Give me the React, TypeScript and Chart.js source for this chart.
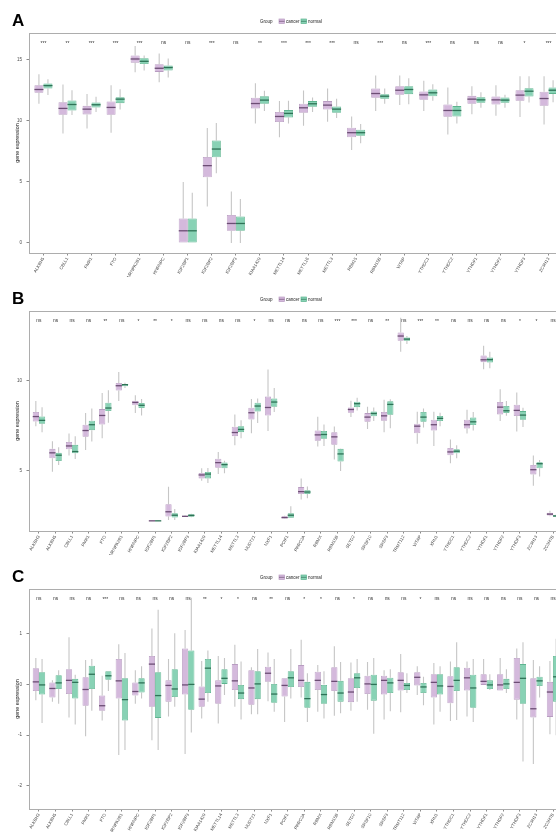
import React, { useEffect, useRef } from "react";
import { Chart, registerables } from "chart.js";

Chart.register(...registerables);

const FONT = "'Liberation Sans', Arial, Helvetica, sans-serif";

// ---------- Panel A ----------
const genesA = ["ALKBH5","CBLL1","FMR1","FTO","HNRNPA2B1","HNRNPC","IGF2BP1","IGF2BP2","IGF2BP3","KIAA1429","METTL14","METTL16","METTL3","RBM15","RBM15B","WTAP","YTHDC1","YTHDC2","YTHDF1","YTHDF2","YTHDF3","ZC3H13"];
const sigA = ["***","**","***","***","***","ns","ns","***","ns","**","***","***","***","ns","***","ns","***","ns","ns","ns","*","***"];
// [min, q1, median, q3, max]
const cancerA = [
  [11.41,12.31,12.58,12.93,13.83],[8.98,10.51,11.03,11.54,12.99],[9.39,10.54,10.97,11.24,12.22],[9.04,10.51,11.11,11.6,12.93],
  [13.99,14.78,15.08,15.36,16.14],[13.18,14.02,14.32,14.65,15.52],[0,0,1.0,2.01,5.0],[2.99,5.39,6.34,7.05,9.42],
  [0,1.0,1.6,2.29,4.22],[9.8,11.03,11.43,11.9,13.1],[8.66,9.91,10.37,10.73,11.63],[9.61,10.67,11.08,11.41,12.5],
  [9.94,10.94,11.3,11.63,12.66],[7.62,8.66,9.04,9.45,10.37],[10.81,11.9,12.25,12.66,13.72],[11.3,12.14,12.52,12.85,13.72],
  [10.81,11.73,12.14,12.41,13.29],[8.9,10.35,10.86,11.35,12.74],[10.56,11.41,11.79,12.06,12.85],[10.43,11.35,11.73,12.01,12.93],
  [10.32,11.65,12.12,12.52,13.67],[9.72,11.24,11.84,12.39,13.67]
];
const normalA = [
  [12.12,12.66,12.9,13.07,13.42],[10.48,10.86,11.35,11.68,12.52],[10.73,11.11,11.33,11.52,11.98],[10.94,11.46,11.79,11.95,12.6],
  [14.13,14.67,14.89,15.14,15.36],[13.56,14.13,14.38,14.54,15.11],[0,0,1.0,2.01,4.11],[5.72,7.02,7.7,8.41,9.83],
  [0,1.0,1.6,2.18,3.6],[10.81,11.41,11.71,12.03,12.47],[9.8,10.29,10.62,10.89,11.65],[10.73,11.16,11.41,11.63,11.92],
  [10.24,10.67,10.97,11.19,11.82],[8.17,8.79,9.04,9.28,9.75],[11.41,11.82,12.03,12.2,12.66],[11.38,12.2,12.58,12.85,13.5],
  [11.65,12.03,12.31,12.58,13.01],[9.8,10.37,10.86,11.22,11.57],[11.08,11.49,11.73,11.95,12.36],[11.08,11.49,11.71,11.92,12.14],
  [11.52,12.01,12.44,12.69,13.67],[11.54,12.22,12.52,12.74,13.34]
];
const yTicksA = [0, 5, 10, 15];

// ---------- Panel B ----------
const genesB = ["ALKBH3","ALKBH5","CBLL1","FMR1","FTO","HNRNPA2B1","HNRNPC","IGF2BP1","IGF2BP2","IGF2BP3","KIAA1429","METTL14","METTL3","NUDT21","NXF1","PCIF1","PRRC2A","RBMX","RBM15B","SETD2","SRSF10","SRSF3","TRMT112","WTAP","XRN1","YTHDC1","YTHDC2","YTHDF1","YTHDF2","YTHDF3","ZC3H13","ZC3H7B"];
const sigB = ["ns","ns","ns","ns","**","ns","*","**","*","ns","ns","ns","ns","*","ns","ns","ns","ns","***","***","ns","**","ns","***","**","ns","ns","ns","ns","*","*","ns"];
const cancerB = [
  [7.47,7.73,8.0,8.25,8.86],[4.96,5.7,6.0,6.22,6.64],[5.85,6.2,6.38,6.6,7.07],[6.16,6.88,7.23,7.55,8.2],
  [6.8,7.56,8.06,8.41,9.3],[8.86,9.43,9.7,9.85,10.46],[8.2,8.62,8.78,8.87,9.17],[2.24,2.24,2.25,2.26,2.27],
  [2.29,2.49,2.75,3.17,4.13],[2.47,2.48,2.5,2.52,2.54],[4.46,4.59,4.78,4.89,5.15],[4.83,5.18,5.46,5.68,6.05],
  [6.42,6.92,7.12,7.44,8.12],[7.08,7.84,8.21,8.49,8.97],[7.2,8.06,8.5,9.1,10.59],[2.36,2.38,2.43,2.51,2.53],
  [3.43,3.73,3.86,4.11,4.59],[6.35,6.66,6.99,7.23,7.99],[5.63,6.44,6.88,7.14,7.45],[7.97,8.21,8.39,8.5,8.87],
  [7.32,7.71,7.97,8.19,8.54],[7.14,7.77,8.04,8.25,8.93],[11.57,12.18,12.44,12.64,13.45],[6.5,7.08,7.47,7.6,8.27],
  [6.37,7.23,7.55,7.82,8.27],[5.42,5.87,6.05,6.27,6.73],[7.07,7.34,7.55,7.82,8.38],[10.61,11.0,11.13,11.37,11.9],
  [7.75,8.12,8.52,8.8,9.5],[7.18,8.03,8.34,8.65,9.32],[4.19,4.81,5.07,5.33,5.85],[2.5,2.54,2.62,2.69,2.8]
];
const normalB = [
  [7.14,7.6,7.79,8.0,8.52],[5.33,5.55,5.87,6.0,6.31],[5.66,5.98,6.07,6.44,6.92],[6.62,7.25,7.55,7.77,8.45],
  [7.66,8.3,8.47,8.76,9.45],[9.58,9.67,9.76,9.8,9.87],[8.06,8.47,8.62,8.75,8.97],[2.24,2.24,2.25,2.26,2.27],
  [2.29,2.43,2.56,2.67,2.9],[2.45,2.47,2.55,2.62,2.64],[4.33,4.59,4.83,4.94,5.17],[4.87,5.15,5.35,5.46,5.57],
  [6.8,7.14,7.29,7.47,7.79],[7.64,8.28,8.58,8.76,9.0],[8.25,8.54,8.8,9.0,9.58],[2.4,2.42,2.56,2.67,3.06],
  [3.49,3.73,3.84,3.93,4.15],[6.37,6.77,7.01,7.2,7.56],[5.0,5.52,5.94,6.22,6.24],[8.34,8.52,8.71,8.82,9.04],
  [7.75,8.02,8.17,8.28,8.5],[7.36,8.1,8.67,8.84,8.95],[12.0,12.18,12.27,12.36,12.44],[7.4,7.71,7.97,8.25,8.45],
  [7.47,7.75,7.9,8.03,8.21],[5.7,5.98,6.09,6.2,6.42],[7.23,7.53,7.71,7.95,8.25],[10.66,10.98,11.14,11.25,11.57],
  [8.04,8.19,8.32,8.58,8.86],[7.42,7.82,8.08,8.3,8.49],[4.7,5.15,5.4,5.48,5.6],[2.45,2.47,2.52,2.56,2.6]
];
const yTicksB = [5, 10];

// ---------- Panel C ----------
const genesC = genesB;
const sigC = ["ns","ns","ns","ns","***","ns","ns","ns","ns","ns","**","*","*","ns","**","ns","*","*","ns","*","ns","ns","ns","*","ns","ns","ns","ns","ns","ns","ns","ns"];
const cancerC = [
  [-0.31,-0.13,0.05,0.32,0.52],[-0.34,-0.26,-0.08,0.04,0.08],[-0.65,-0.19,0.08,0.3,0.93],[-1.02,-0.42,-0.1,0.14,0.48],
  [-0.71,-0.52,-0.42,-0.22,0.17],[-1.39,-0.28,0.07,0.5,0.79],[-0.38,-0.22,-0.14,0.04,0.28],[-1.1,-0.44,0.4,0.56,1.1],
  [-0.63,-0.34,-0.02,0.08,0.5],[-1.37,-0.2,-0.01,0.71,1.07],[-0.67,-0.44,-0.29,-0.04,0.46],[-0.77,-0.38,-0.03,0.08,0.56],
  [-0.44,-0.11,0.07,0.4,0.78],[-0.59,-0.4,-0.07,0.28,0.34],[-0.33,0.05,0.22,0.35,0.63],[-0.74,-0.24,-0.02,0.12,0.12],
  [-0.26,-0.05,0.08,0.38,0.88],[-0.54,-0.11,0.08,0.25,0.38],[-0.62,-0.13,0.06,0.34,0.75],[-0.52,-0.35,-0.15,0.12,0.43],
  [-0.5,-0.19,0.01,0.17,0.44],[-0.69,-0.2,0.08,0.17,0.28],[-0.55,-0.12,0.08,0.24,0.6],[-0.21,-0.02,0.14,0.24,0.36],
  [-0.79,-0.26,0.04,0.2,0.42],[-0.72,-0.37,-0.04,0.16,0.45],[-0.63,-0.12,0.13,0.33,0.45],[-0.01,-0.01,0.06,0.2,0.5],
  [-0.12,-0.12,-0.01,0.2,0.52],[-0.69,-0.3,0.04,0.52,0.71],[-1.57,-0.65,-0.48,0.12,0.48],[-0.98,-0.64,-0.15,0.05,0.46]
];
const normalC = [
  [-0.76,-0.2,-0.01,0.24,0.5],[-0.38,-0.09,0.03,0.18,0.28],[-0.79,-0.28,0.04,0.11,0.19],[-0.52,-0.09,0.2,0.37,0.5],
  [-0.13,0.09,0.17,0.26,0.26],[-1.29,-0.71,-0.3,0.12,0.62],[-0.28,-0.16,0.03,0.12,0.36],[-1.29,-0.66,-0.22,0.24,1.47],
  [-0.44,-0.25,-0.09,0.3,1.01],[-0.95,-0.5,0.0,0.67,1.71],[-0.34,-0.17,0.32,0.5,0.67],[-0.21,0.01,0.12,0.3,0.52],
  [-0.69,-0.29,-0.17,-0.01,0.45],[-0.59,-0.29,0.01,0.26,0.7],[-0.54,-0.36,-0.19,0.01,0.5],[-0.28,-0.05,0.13,0.26,0.7],
  [-0.74,-0.46,-0.28,0.05,0.22],[-0.67,-0.38,-0.2,0.0,0.26],[-0.57,-0.34,-0.17,0.07,0.44],[-0.34,-0.07,0.13,0.22,0.5],
  [-0.97,-0.32,0.0,0.19,0.52],[-0.53,-0.17,0.03,0.13,0.3],[-0.17,-0.11,-0.02,0.03,0.22],[-0.41,-0.17,-0.05,0.03,0.15],
  [-0.54,-0.2,-0.03,0.2,0.36],[-0.7,-0.13,0.08,0.34,0.83],[-0.74,-0.46,-0.07,0.19,0.5],[-0.11,-0.09,-0.01,0.08,0.2],
  [-0.17,-0.09,0.01,0.11,0.3],[-1.52,-0.38,0.12,0.4,0.83],[-0.26,-0.03,0.07,0.15,0.36],[-1.0,-0.34,0.15,0.56,0.9]
];
const yTicksC = [-2, -1, 0, 1];

const groups = ["cancer", "normal"];

// ---------- styles ----------
const CANCER_FILL = "#D4B9DC";
const CANCER_LINE = "#B89CC1";
const CANCER_MED = "#6C4D74";
const NORMAL_FILL = "#88D2B5";
const NORMAL_LINE = "#5DB48F";
const NORMAL_MED = "#2E7256";
const WHISKER = "#C6C6C6";

const CW = 575;
const CH = 300;
const AREA_LEFT = 29;
const AREA_TOP = 33;
const AREA_BOTTOM = 253;
const AREA_RIGHT = 563;
const XAXIS_H = 24;

type Panel = {
  letter: string;
  genes: string[];
  sig: string[];
  cancer: number[][];
  normal: number[][];
  yMin: number;
  yMax: number;
  yTicks: number[];
  top: number;
};

const panels: Panel[] = [
  { letter: "A", genes: genesA, sig: sigA, cancer: cancerA, normal: normalA, yMin: -0.82, yMax: 17.21, yTicks: yTicksA, top: 0 },
  { letter: "B", genes: genesB, sig: sigB, cancer: cancerB, normal: normalB, yMin: 1.69, yMax: 13.82, yTicks: yTicksB, top: 278 },
  { letter: "C", genes: genesC, sig: sigC, cancer: cancerC, normal: normalC, yMin: -2.455, yMax: 1.88, yTicks: yTicksC, top: 556 },
];

function makePlugin(p: Panel) {
  const statsList = [p.cancer, p.normal];
  const medColors = [CANCER_MED, NORMAL_MED];
  return {
    id: "boxExtras" + p.letter,
    beforeDatasetsDraw(chart: any) {
      const ctx = chart.ctx;
      const y = chart.scales.y;
      ctx.save();
      ctx.strokeStyle = WHISKER;
      ctx.lineWidth = 1.1;
      statsList.forEach((stats, di) => {
        chart.getDatasetMeta(di).data.forEach((el: any, i: number) => {
          const s = stats[i];
          const x = el.x;
          ctx.beginPath();
          ctx.moveTo(x, y.getPixelForValue(s[4]));
          ctx.lineTo(x, y.getPixelForValue(s[3]));
          ctx.moveTo(x, y.getPixelForValue(s[1]));
          ctx.lineTo(x, y.getPixelForValue(s[0]));
          ctx.stroke();
        });
      });
      ctx.restore();
    },
    afterDatasetsDraw(chart: any) {
      const ctx = chart.ctx;
      const y = chart.scales.y;
      ctx.save();
      ctx.lineWidth = 1.3;
      statsList.forEach((stats, di) => {
        ctx.strokeStyle = medColors[di];
        chart.getDatasetMeta(di).data.forEach((el: any, i: number) => {
          const yy = y.getPixelForValue(stats[i][2]);
          ctx.beginPath();
          ctx.moveTo(el.x - el.width / 2, yy);
          ctx.lineTo(el.x + el.width / 2, yy);
          ctx.stroke();
        });
      });
      ctx.restore();
    },
    afterDraw(chart: any) {
      const ctx = chart.ctx;
      const a = chart.chartArea;
      const x = chart.scales.x;
      ctx.save();
      // panel border
      ctx.strokeStyle = "#ADADAD";
      ctx.lineWidth = 1;
      ctx.strokeRect(a.left + 0.5, a.top + 0.5, a.right - a.left, a.bottom - a.top);
      // significance labels
      ctx.fillStyle = "#333333";
      ctx.font = `4.9px ${FONT}`;
      ctx.textAlign = "center";
      ctx.textBaseline = "alphabetic";
      p.sig.forEach((s, i) => {
        const px = x.getPixelForValue(i + 1);
        ctx.fillText(s, px, a.top + (s === "ns" ? 10.8 : 11.6));
      });
      // panel letter
      ctx.fillStyle = "#000";
      ctx.font = `bold 17px ${FONT}`;
      ctx.textAlign = "left";
      ctx.fillText(p.letter, 12, 26);
      // y title
      ctx.save();
      ctx.translate(17.5, (a.top + a.bottom) / 2);
      ctx.rotate(-Math.PI / 2);
      ctx.font = `5.4px ${FONT}`;
      ctx.fillStyle = "#222";
      ctx.textAlign = "center";
      ctx.textBaseline = "middle";
      ctx.fillText("gene expression", 0, 0);
      ctx.restore();
      // legend
      ctx.font = `4.5px ${FONT}`;
      ctx.fillStyle = "#222";
      ctx.textAlign = "left";
      ctx.textBaseline = "middle";
      const ly = 21.3;
      ctx.fillText("Group", 260, ly);
      const keys = [
        { x: 279, fill: CANCER_FILL, line: CANCER_LINE, med: CANCER_MED, tx: 286 },
        { x: 301, fill: NORMAL_FILL, line: NORMAL_LINE, med: NORMAL_MED, tx: 308 },
      ];
      keys.forEach((k, i) => {
        ctx.fillStyle = k.fill;
        ctx.fillRect(k.x, ly - 2.3, 5.5, 4.6);
        ctx.strokeStyle = k.line;
        ctx.lineWidth = 0.7;
        ctx.strokeRect(k.x, ly - 2.3, 5.5, 4.6);
        ctx.strokeStyle = k.med;
        ctx.beginPath();
        ctx.moveTo(k.x, ly);
        ctx.lineTo(k.x + 5.5, ly);
        ctx.stroke();
        ctx.fillStyle = "#222";
        ctx.fillText(groups[i], k.tx, ly);
      });
      ctx.restore();
    },
  };
}

function BoxPanel({ p }: { p: Panel }) {
  const ref = useRef<HTMLCanvasElement | null>(null);
  useEffect(() => {
    if (!ref.current) return;
    const n = p.genes.length;
    const mk = (stats: number[][]) => p.genes.map((_, i) => ({ x: i + 1, y: [stats[i][1], stats[i][3]] }));
    const chart = new Chart(ref.current, {
      type: "bar",
      data: {
        datasets: [
          {
            label: groups[0],
            data: mk(p.cancer) as any,
            backgroundColor: CANCER_FILL,
            borderColor: CANCER_LINE,
            borderWidth: 0.8,
            borderSkipped: false,
            categoryPercentage: 0.75,
            barPercentage: 1,
          },
          {
            label: groups[1],
            data: mk(p.normal) as any,
            backgroundColor: NORMAL_FILL,
            borderColor: NORMAL_LINE,
            borderWidth: 0.8,
            borderSkipped: false,
            categoryPercentage: 0.75,
            barPercentage: 1,
          },
        ],
      },
      options: {
        animation: false,
        responsive: false,
        maintainAspectRatio: false,
        devicePixelRatio: 1,
        layout: {
          padding: { left: 0, top: AREA_TOP, right: CW - AREA_RIGHT, bottom: CH - AREA_BOTTOM - XAXIS_H },
        },
        plugins: { legend: { display: false }, tooltip: { enabled: false } },
        scales: {
          x: {
            type: "linear",
            min: 0.4,
            max: n + 0.6,
            offset: false,
            afterBuildTicks: (ax: any) => {
              ax.ticks = p.genes.map((_, i) => ({ value: i + 1 }));
            },
            afterFit: (ax: any) => {
              ax.height = XAXIS_H;
            },
            ticks: {
              autoSkip: false,
              minRotation: 60,
              maxRotation: 60,
              padding: 1,
              color: "#4D4D4D",
              font: { size: 4.4, family: FONT },
              callback: (v: any) => p.genes[Math.round(Number(v)) - 1] ?? "",
            },
            grid: { display: true, drawOnChartArea: false, drawTicks: true, tickLength: 2.5, color: "#8A8A8A", offset: false },
            border: { display: false },
          },
          y: {
            type: "linear",
            min: p.yMin,
            max: p.yMax,
            afterBuildTicks: (ax: any) => {
              ax.ticks = p.yTicks.map((v) => ({ value: v }));
            },
            afterFit: (ax: any) => {
              ax.width = AREA_LEFT;
            },
            ticks: {
              padding: 4.5,
              color: "#4D4D4D",
              font: { size: 4.6, family: FONT },
            },
            grid: { display: true, drawOnChartArea: false, drawTicks: true, tickLength: 2.5, color: "#8A8A8A" },
            border: { display: false },
          },
        },
      } as any,
      plugins: [makePlugin(p) as any],
    });
    return () => chart.destroy();
  }, [p]);
  return (
    <canvas
      ref={ref}
      width={CW}
      height={CH}
      style={{ position: "absolute", left: 0, top: p.top, width: CW, height: CH, display: "block" }}
    />
  );
}

export default function App() {
  return (
    <div style={{ position: "absolute", left: 0, top: 0, width: 556, height: 832, overflow: "hidden", background: "#fff" }}>
      {panels.map((p) => (
        <BoxPanel key={p.letter} p={p} />
      ))}
    </div>
  );
}
